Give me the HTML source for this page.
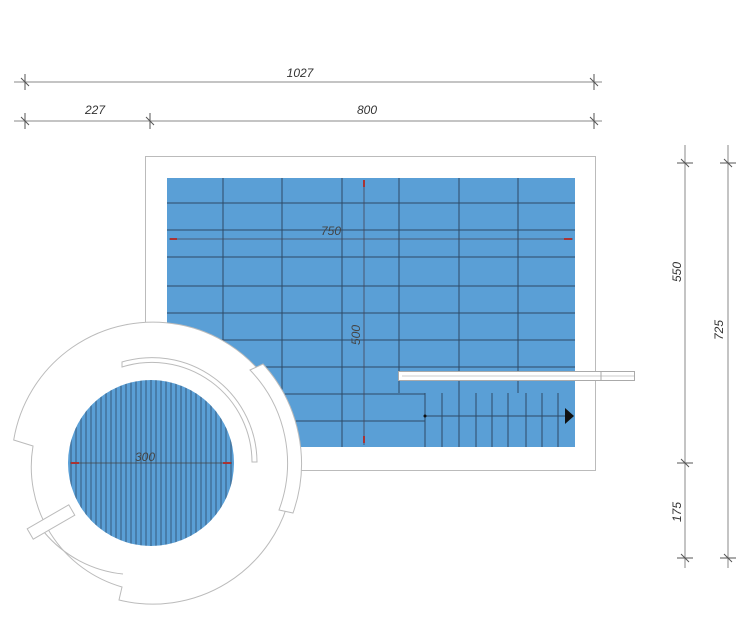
<!DOCTYPE html>
<html><head><meta charset="utf-8"><style>html,body{margin:0;padding:0;background:#fff}svg{display:block}</style></head><body>
<svg width="750" height="625" viewBox="0 0 750 625" xmlns="http://www.w3.org/2000/svg" font-family="Liberation Sans, sans-serif">
<g stroke="#888" stroke-width="1" fill="none">
<line x1="14" y1="82" x2="602" y2="82"/>
<line x1="14" y1="121" x2="602" y2="121"/>
<line x1="685" y1="145" x2="685" y2="568"/>
<line x1="728" y1="145" x2="728" y2="568"/>
</g>
<g stroke="#555" stroke-width="1">
<line x1="25" y1="74" x2="25" y2="90"/><line x1="21" y1="78" x2="29" y2="86"/>
<line x1="594" y1="74" x2="594" y2="90"/><line x1="590" y1="78" x2="598" y2="86"/>
<line x1="25" y1="113" x2="25" y2="129"/><line x1="21" y1="117" x2="29" y2="125"/>
<line x1="150" y1="113" x2="150" y2="129"/><line x1="146" y1="117" x2="154" y2="125"/>
<line x1="594" y1="113" x2="594" y2="129"/><line x1="590" y1="117" x2="598" y2="125"/>
<line x1="677" y1="163" x2="693" y2="163"/><line x1="681" y1="159" x2="689" y2="167"/>
<line x1="677" y1="463" x2="693" y2="463"/><line x1="681" y1="459" x2="689" y2="467"/>
<line x1="677" y1="558" x2="693" y2="558"/><line x1="681" y1="554" x2="689" y2="562"/>
<line x1="720" y1="163" x2="736" y2="163"/><line x1="724" y1="159" x2="732" y2="167"/>
<line x1="720" y1="558" x2="736" y2="558"/><line x1="724" y1="554" x2="732" y2="562"/>
</g>
<g font-size="12" font-style="italic" fill="#333" text-anchor="middle">
<text x="300" y="77">1027</text>
<text x="95" y="114">227</text>
<text x="367" y="114">800</text>
<text transform="translate(681,272) rotate(-90)">550</text>
<text transform="translate(681,512) rotate(-90)">175</text>
<text transform="translate(723,330) rotate(-90)">725</text>
</g>
<rect x="145.5" y="156.5" width="450" height="314" fill="#fff" stroke="#bbb"/>
<rect x="167" y="178" width="408" height="269" fill="#5a9fd6"/>
<g stroke="#2d4a66" stroke-width="1">
<line x1="223" y1="178" x2="223" y2="447"/><line x1="282" y1="178" x2="282" y2="447"/>
<line x1="342" y1="178" x2="342" y2="447"/><line x1="399" y1="178" x2="399" y2="393"/>
<line x1="459" y1="178" x2="459" y2="393"/><line x1="518" y1="178" x2="518" y2="393"/>
<line x1="167" y1="203" x2="575" y2="203"/><line x1="167" y1="230" x2="575" y2="230"/>
<line x1="167" y1="257" x2="575" y2="257"/><line x1="167" y1="286" x2="575" y2="286"/>
<line x1="167" y1="313" x2="575" y2="313"/><line x1="167" y1="340" x2="575" y2="340"/>
<line x1="167" y1="367" x2="575" y2="367"/>
<line x1="167" y1="394" x2="425" y2="394"/><line x1="167" y1="421" x2="425" y2="421"/>
<line x1="425" y1="393" x2="425" y2="447"/>
<line x1="442" y1="393" x2="442" y2="447"/><line x1="459" y1="393" x2="459" y2="447"/>
<line x1="476" y1="393" x2="476" y2="447"/><line x1="492" y1="393" x2="492" y2="447"/>
<line x1="508" y1="393" x2="508" y2="447"/><line x1="526" y1="393" x2="526" y2="447"/>
<line x1="542" y1="393" x2="542" y2="447"/><line x1="558" y1="393" x2="558" y2="447"/>
<line x1="425" y1="416" x2="566" y2="416"/>
</g>
<polygon points="565,408 574,416 565,424" fill="#111"/>
<circle cx="425" cy="416" r="1.5" fill="#111"/>
<g stroke="#445" stroke-width="0.8"><line x1="364" y1="180" x2="364" y2="445"/><line x1="169" y1="239" x2="573" y2="239"/></g>
<g stroke="#a33" stroke-width="2"><line x1="364" y1="180" x2="364" y2="187"/><line x1="364" y1="436" x2="364" y2="443"/><line x1="170" y1="239" x2="177" y2="239"/><line x1="564" y1="239" x2="572" y2="239"/></g>
<g font-size="12" font-style="italic" fill="#444" text-anchor="middle">
<text x="331" y="235">750</text>
<text transform="translate(360,335) rotate(-90)">500</text>
</g>
<rect x="398.5" y="371.5" width="236" height="9" fill="#fff" stroke="#aaa"/>
<line x1="402" y1="376" x2="634" y2="376" stroke="#ccc"/>
<line x1="601" y1="371" x2="601" y2="381" stroke="#aaa"/>
<path d="M13.7,440 A141,141 0 1 1 119,600 L122,587 A125,125 0 0 1 33,446 Z" fill="#fff" stroke="#bbb"/>
<path d="M44,532 A118,118 0 0 0 123,574" fill="none" stroke="#bbb"/>
<path d="M250,370 L263,364 A148,148 0 0 1 293,513 L279,510 A134,134 0 0 0 250,370 Z" fill="#fff" stroke="#bbb"/>
<path d="M122,362 A105,105 0 0 1 257,462 L252,462 A100,100 0 0 0 122,367 Z" fill="#fff" stroke="#bbb"/>
<rect x="27" y="516" width="48" height="12" fill="#fff" stroke="#bbb" transform="rotate(-30 51 522)"/>
<clipPath id="c"><circle cx="151" cy="463" r="83"/></clipPath>
<circle cx="151" cy="463" r="83" fill="#5a9fd6"/>
<g clip-path="url(#c)" stroke="#2d4a66" stroke-width="0.8">
<path d="M71,380V546M76,380V546M81,380V546M86,380V546M91,380V546M96,380V546M101,380V546M106,380V546M111,380V546M116,380V546M121,380V546M126,380V546M131,380V546M136,380V546M141,380V546M146,380V546M151,380V546M156,380V546M161,380V546M166,380V546M171,380V546M176,380V546M181,380V546M186,380V546M191,380V546M196,380V546M201,380V546M206,380V546M211,380V546M216,380V546M221,380V546M226,380V546M231,380V546"/>
</g>
<line x1="70" y1="463" x2="232" y2="463" stroke="#444" stroke-width="0.8"/>
<g stroke="#a33" stroke-width="2"><line x1="71" y1="463" x2="79" y2="463"/><line x1="223" y1="463" x2="231" y2="463"/></g>
<text x="145" y="461" font-size="12" font-style="italic" fill="#444" text-anchor="middle">300</text>
</svg>
</body></html>
